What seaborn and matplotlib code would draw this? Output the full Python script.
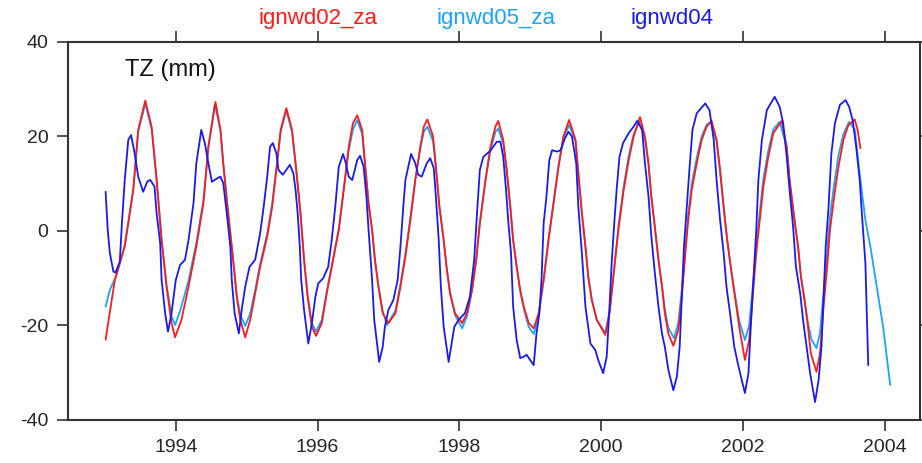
import numpy as np
import pandas as pd
import matplotlib
matplotlib.use("Agg")
import matplotlib.pyplot as plt
import seaborn as sns

# --- series (decimal year, TZ in mm) ---
anio_02 = [1993.01, 1993.14, 1993.28, 1993.40, 1993.47, 1993.57, 1993.66, 1993.73, 1993.80, 1993.87,
           1993.94, 1993.99, 1994.08, 1994.18, 1994.29, 1994.39, 1994.46, 1994.56, 1994.63, 1994.67,
           1994.72, 1994.77, 1994.82, 1994.86, 1994.91, 1994.98, 1995.05, 1995.12, 1995.19, 1995.29,
           1995.36, 1995.43, 1995.48, 1995.56, 1995.64, 1995.70, 1995.76, 1995.81, 1995.86, 1995.92,
           1995.98, 1996.06, 1996.13, 1996.22, 1996.30, 1996.37, 1996.44, 1996.50, 1996.56, 1996.63,
           1996.67, 1996.72, 1996.77, 1996.81, 1996.86, 1996.92, 1997.00, 1997.10, 1997.17, 1997.24,
           1997.31, 1997.38, 1997.45, 1997.50, 1997.55, 1997.63, 1997.67, 1997.72, 1997.78, 1997.82,
           1997.87, 1997.94, 1998.04, 1998.11, 1998.18, 1998.24, 1998.29, 1998.37, 1998.44, 1998.51,
           1998.55, 1998.62, 1998.67, 1998.72, 1998.76, 1998.81, 1998.86, 1998.91, 1998.98, 1999.05,
           1999.12, 1999.19, 1999.26, 1999.33, 1999.40, 1999.47, 1999.55, 1999.64, 1999.68, 1999.73,
           1999.78, 1999.82, 1999.87, 1999.94, 2000.06, 2000.12, 2000.18, 2000.25, 2000.32, 2000.39,
           2000.46, 2000.55, 2000.62, 2000.67, 2000.71, 2000.76, 2000.81, 2000.86, 2000.90, 2000.95,
           2001.02, 2001.09, 2001.14, 2001.19, 2001.23, 2001.28, 2001.35, 2001.42, 2001.49, 2001.56,
           2001.63, 2001.68, 2001.73, 2001.78, 2001.83, 2001.89, 2001.95, 2002.03, 2002.09, 2002.14,
           2002.19, 2002.24, 2002.29, 2002.36, 2002.43, 2002.55, 2002.62, 2002.66, 2002.73, 2002.78,
           2002.82, 2002.87, 2002.92, 2002.96, 2003.04, 2003.09, 2003.14, 2003.19, 2003.23, 2003.29,
           2003.35, 2003.42, 2003.49, 2003.58, 2003.62, 2003.66]
tz_02 = [-23.0, -10.4, -3.3, 8.7, 21.4, 27.6, 22.0, 10.8, -1.9, -11.8,
         -19.5, -22.5, -18.8, -11.8, -3.3, 5.9, 17.8, 27.3, 21.4, 14.3,
         6.6, -0.5, -7.6, -13.9, -18.8, -22.5, -18.8, -13.2, -7.6, -1.2,
         5.1, 14.3, 21.4, 26.0, 21.4, 12.9, 3.7, -6.1, -13.9, -20.3,
         -22.2, -19.5, -13.2, -6.1, 0.2, 8.7, 17.8, 22.8, 24.5, 21.4,
         14.3, 5.9, 0.2, -6.1, -11.8, -17.4, -19.5, -17.4, -11.8, -5.4,
         2.3, 10.8, 17.8, 22.1, 23.6, 20.0, 13.6, 5.1, -1.9, -7.6,
         -13.2, -17.4, -19.5, -17.4, -12.5, -6.1, 1.6, 10.8, 17.8, 22.1,
         23.3, 19.3, 12.9, 5.1, -1.9, -7.6, -12.5, -16.0, -19.5, -20.6,
         -17.4, -10.4, -1.9, 5.9, 13.6, 20.0, 23.5, 19.3, 12.2, 3.7,
         -3.3, -9.7, -14.6, -18.8, -22.0, -17.4, -9.0, 0.9, 8.7, 15.0,
         20.0, 24.1, 20.0, 14.3, 7.3, 0.9, -6.1, -11.8, -17.4, -21.7,
         -24.3, -21.0, -13.9, -4.7, 2.3, 8.7, 14.3, 19.3, 22.1, 23.3,
         19.3, 12.9, 5.1, -1.9, -7.6, -13.9, -20.3, -27.3, -23.1, -13.9,
         -4.7, 2.3, 9.4, 15.7, 20.7, 23.3, 17.8, 10.8, 2.3, -3.3,
         -9.7, -14.6, -20.3, -25.9, -29.8, -25.9, -16.0, -7.6, 0.2, 7.3,
         13.6, 19.3, 22.4, 23.6, 21.4, 17.5]

anio_05 = [1993.01, 1993.07, 1993.16, 1993.28, 1993.40, 1993.47, 1993.57, 1993.66, 1993.73, 1993.80,
           1993.87, 1993.94, 1993.99, 1994.06, 1994.18, 1994.29, 1994.39, 1994.46, 1994.55, 1994.63,
           1994.67, 1994.72, 1994.77, 1994.82, 1994.86, 1994.91, 1994.98, 1995.05, 1995.12, 1995.19,
           1995.29, 1995.36, 1995.43, 1995.48, 1995.56, 1995.64, 1995.70, 1995.76, 1995.81, 1995.86,
           1995.92, 1995.98, 1996.06, 1996.13, 1996.22, 1996.30, 1996.37, 1996.44, 1996.50, 1996.56,
           1996.63, 1996.67, 1996.72, 1996.77, 1996.81, 1996.86, 1996.92, 1996.98, 1997.10, 1997.17,
           1997.24, 1997.31, 1997.38, 1997.45, 1997.50, 1997.55, 1997.63, 1997.67, 1997.72, 1997.78,
           1997.82, 1997.87, 1997.94, 1998.04, 1998.11, 1998.18, 1998.24, 1998.29, 1998.37, 1998.44,
           1998.51, 1998.55, 1998.62, 1998.67, 1998.72, 1998.76, 1998.81, 1998.86, 1998.91, 1998.98,
           1999.05, 1999.12, 1999.19, 1999.26, 1999.33, 1999.40, 1999.47, 1999.55, 1999.64, 1999.68,
           1999.73, 1999.78, 1999.82, 1999.87, 1999.94, 2000.06, 2000.12, 2000.18, 2000.25, 2000.32,
           2000.39, 2000.46, 2000.54, 2000.62, 2000.67, 2000.71, 2000.76, 2000.81, 2000.86, 2000.90,
           2000.95, 2001.03, 2001.09, 2001.14, 2001.19, 2001.23, 2001.28, 2001.35, 2001.42, 2001.49,
           2001.55, 2001.63, 2001.68, 2001.73, 2001.78, 2001.83, 2001.89, 2001.95, 2002.03, 2002.09,
           2002.14, 2002.19, 2002.24, 2002.29, 2002.36, 2002.43, 2002.52, 2002.62, 2002.66, 2002.73,
           2002.78, 2002.82, 2002.87, 2002.92, 2002.97, 2003.04, 2003.09, 2003.14, 2003.19, 2003.23,
           2003.29, 2003.35, 2003.42, 2003.50, 2003.58, 2003.65, 2003.73, 2003.80, 2003.89, 2003.98,
           2004.08]
tz_05 = [-16.0, -12.5, -9.5, -3.0, 8.7, 21.0, 27.0, 21.5, 10.8, -1.9,
         -11.5, -18.0, -19.9, -17.0, -10.5, -2.5, 6.5, 17.8, 26.8, 21.4,
         14.3, 6.6, -0.5, -7.6, -13.5, -17.8, -20.1, -17.5, -12.5, -7.0,
         -0.5, 5.8, 14.8, 21.0, 25.5, 21.0, 12.9, 3.7, -6.1, -13.5,
         -19.5, -21.3, -18.8, -12.8, -5.8, 0.5, 9.0, 17.0, 21.5, 23.5,
         20.5, 14.0, 5.9, 0.2, -6.1, -11.8, -17.0, -19.9, -16.8, -11.2,
         -4.8, 2.8, 11.0, 17.5, 21.0, 22.1, 19.0, 13.3, 5.1, -1.9,
         -7.6, -13.2, -17.8, -20.6, -18.0, -12.5, -5.8, 1.8, 10.8, 17.2,
         21.0, 21.7, 18.5, 12.5, 5.1, -1.9, -7.6, -12.8, -16.5, -20.3,
         -21.8, -18.0, -10.4, -1.5, 6.2, 13.8, 19.8, 22.4, 19.0, 12.2,
         3.7, -3.3, -9.7, -14.6, -18.8, -21.6, -17.0, -8.5, 1.5, 9.5,
         15.8, 20.5, 23.1, 19.5, 14.0, 7.0, 0.5, -6.0, -11.5, -16.5,
         -20.5, -22.7, -19.5, -12.5, -3.5, 3.5, 10.0, 15.5, 20.0, 22.5,
         23.1, 19.0, 12.5, 5.0, -1.9, -7.6, -13.5, -19.0, -23.1, -20.0,
         -12.0, -3.0, 4.0, 11.0, 17.0, 21.5, 23.1, 17.8, 10.8, 2.3,
         -3.3, -9.5, -14.3, -19.5, -23.0, -24.8, -21.5, -13.0, -4.5, 3.0,
         10.0, 16.0, 20.5, 23.1, 21.5, 12.0, 2.3, -3.3, -11.8, -20.3,
         -32.6]

anio_04 = [1993.01, 1993.04, 1993.07, 1993.12, 1993.15, 1993.21, 1993.24, 1993.28, 1993.33, 1993.37,
           1993.42, 1993.47, 1993.54, 1993.60, 1993.64, 1993.70, 1993.73, 1993.78, 1993.80, 1993.85,
           1993.89, 1993.94, 1994.00, 1994.06, 1994.13, 1994.18, 1994.25, 1994.29, 1994.36, 1994.41,
           1994.46, 1994.51, 1994.59, 1994.63, 1994.67, 1994.72, 1994.77, 1994.79, 1994.83, 1994.89,
           1994.93, 1994.98, 1995.04, 1995.12, 1995.19, 1995.24, 1995.29, 1995.33, 1995.37, 1995.42,
           1995.45, 1995.51, 1995.61, 1995.66, 1995.69, 1995.72, 1995.75, 1995.77, 1995.81, 1995.87,
           1995.92, 1995.97, 1996.01, 1996.08, 1996.15, 1996.20, 1996.25, 1996.30, 1996.36, 1996.40,
           1996.44, 1996.49, 1996.56, 1996.60, 1996.65, 1996.69, 1996.72, 1996.77, 1996.80, 1996.87,
           1996.92, 1996.95, 1997.00, 1997.07, 1997.13, 1997.17, 1997.21, 1997.24, 1997.32, 1997.38,
           1997.42, 1997.47, 1997.54, 1997.59, 1997.64, 1997.67, 1997.71, 1997.74, 1997.78, 1997.85,
           1997.90, 1997.93, 1997.99, 1998.08, 1998.15, 1998.21, 1998.25, 1998.29, 1998.34, 1998.44,
           1998.53, 1998.58, 1998.62, 1998.66, 1998.69, 1998.73, 1998.76, 1998.81, 1998.86, 1998.91,
           1998.95, 1999.00, 1999.05, 1999.09, 1999.13, 1999.16, 1999.19, 1999.23, 1999.27, 1999.31,
           1999.38, 1999.43, 1999.49, 1999.54, 1999.59, 1999.65, 1999.68, 1999.73, 1999.78, 1999.85,
           1999.92, 1999.96, 2000.03, 2000.08, 2000.12, 2000.15, 2000.18, 2000.22, 2000.26, 2000.31,
           2000.39, 2000.46, 2000.51, 2000.58, 2000.62, 2000.67, 2000.71, 2000.76, 2000.81, 2000.86,
           2000.90, 2000.95, 2001.02, 2001.07, 2001.11, 2001.14, 2001.17, 2001.21, 2001.25, 2001.29,
           2001.35, 2001.47, 2001.53, 2001.59, 2001.63, 2001.68, 2001.73, 2001.77, 2001.82, 2001.88,
           2001.94, 2002.03, 2002.08, 2002.11, 2002.15, 2002.19, 2002.22, 2002.27, 2002.34, 2002.45,
           2002.52, 2002.57, 2002.62, 2002.66, 2002.71, 2002.75, 2002.81, 2002.85, 2002.90, 2002.95,
           2003.02, 2003.07, 2003.11, 2003.14, 2003.17, 2003.21, 2003.25, 2003.30, 2003.37, 2003.45,
           2003.50, 2003.55, 2003.60, 2003.65, 2003.68, 2003.73, 2003.75, 2003.77]
tz_04 = [8.3, 0.2, -4.7, -8.6, -8.8, -6.5, 1.6, 10.8, 19.3, 20.3,
         16.4, 11.5, 8.3, 10.5, 10.8, 9.4, 3.7, -2.6, -10.4, -17.4,
         -21.3, -17.4, -10.4, -7.2, -6.1, -1.9, 5.9, 14.3, 21.4, 18.6,
         14.3, 10.4, 11.2, 11.5, 10.1, 3.7, -3.3, -10.4, -17.4, -21.7,
         -16.7, -11.8, -7.6, -6.1, -0.5, 5.1, 11.5, 17.8, 18.6, 16.4,
         12.9, 11.9, 14.0, 12.2, 8.7, 3.7, -3.3, -10.4, -16.7, -23.8,
         -19.5, -13.9, -11.1, -10.0, -7.6, -1.9, 5.1, 13.6, 16.3, 14.3,
         11.5, 10.8, 15.0, 15.9, 13.6, 7.3, 0.2, -10.4, -18.8, -27.7,
         -24.5, -20.3, -16.7, -14.6, -10.4, -3.3, 5.1, 10.8, 16.3, 14.3,
         11.9, 11.5, 14.3, 15.4, 13.3, 7.3, -1.9, -11.8, -20.3, -27.7,
         -23.1, -20.3, -18.8, -17.4, -13.9, -6.1, 3.7, 12.9, 15.7, 17.0,
         18.9, 18.9, 15.7, 8.7, 2.3, -4.7, -16.0, -23.1, -26.9, -26.6,
         -26.2, -27.3, -28.4, -21.6, -17.4, -10.4, 1.6, 7.3, 15.0, 17.1,
         16.8, 17.1, 19.6, 21.0, 20.0, 14.3, 5.1, -4.7, -16.0, -23.8,
         -25.2, -27.3, -30.1, -26.6, -16.0, -6.8, 0.2, 8.7, 15.7, 18.6,
         20.7, 22.1, 23.3, 21.4, 14.3, 7.3, -1.2, -9.0, -16.0, -21.7,
         -24.5, -29.4, -33.7, -30.8, -24.5, -13.9, -3.3, 5.1, 13.6, 21.4,
         24.9, 27.0, 25.6, 19.3, 10.8, 2.3, -4.7, -11.8, -17.4, -24.5,
         -28.7, -34.3, -30.1, -21.0, -10.4, 0.2, 10.8, 19.3, 25.6, 28.4,
         26.3, 22.8, 15.7, 8.7, 0.9, -7.6, -13.2, -18.8, -24.5, -30.1,
         -36.2, -31.5, -24.5, -13.9, -3.3, 5.1, 16.4, 22.8, 26.7, 27.7,
         26.3, 23.5, 17.8, 10.8, 3.7, -6.8, -17.4, -28.4]

# orden de dibujo: cian abajo, rojo encima, azul al final
series = [
    ("ignwd05_za", anio_05, tz_05, "#1aa3ff"),
    ("ignwd02_za", anio_02, tz_02, "#ff1a1a"),
    ("ignwd04", anio_04, tz_04, "#1a1aee"),
]
etiquetas = [("ignwd02_za", "#ff1a1a", 0.345),
             ("ignwd05_za", "#1aa3ff", 0.538),
             ("ignwd04", "#1a1aee", 0.729)]

sns.set_style("ticks")
plt.rcParams["font.family"] = ["Liberation Sans", "DejaVu Sans"]
plt.rcParams["axes.unicode_minus"] = False

fig = plt.figure(figsize=(9.22, 4.63), dpi=100)
ax = fig.add_axes([0.0738, 0.0929, 0.924, 0.8164])

for nombre, x, y, color in series:
    df = pd.DataFrame({"anio": x, "tz": y})
    sns.lineplot(data=df, x="anio", y="tz", color=color, lw=1.3, sort=False, ax=ax,
                 solid_joinstyle="round")

for nombre, color, xf in etiquetas:
    fig.text(xf, 0.961, nombre, color=color, fontsize=16, ha="center", va="center")

ax.text(1993.29, 34, "TZ (mm)", fontsize=17, ha="left", va="center", color="#111111")

ax.set_xlim(1992.48, 2004.5)
ax.set_ylim(-40, 40)
ax.set_xticks(np.arange(1994, 2005, 2))
ax.set_yticks([-40, -20, 0, 20, 40])
ax.set_xlabel("")
ax.set_ylabel("")
ax.tick_params(axis="both", direction="out", length=8, width=1.2, color="#333333",
               labelsize=14, top=True, right=True, pad=6)
for s in ax.spines.values():
    s.set_visible(True)
    s.set_linewidth(1.5)
    s.set_color("#333333")

fig.savefig("out.png", dpi=100)
